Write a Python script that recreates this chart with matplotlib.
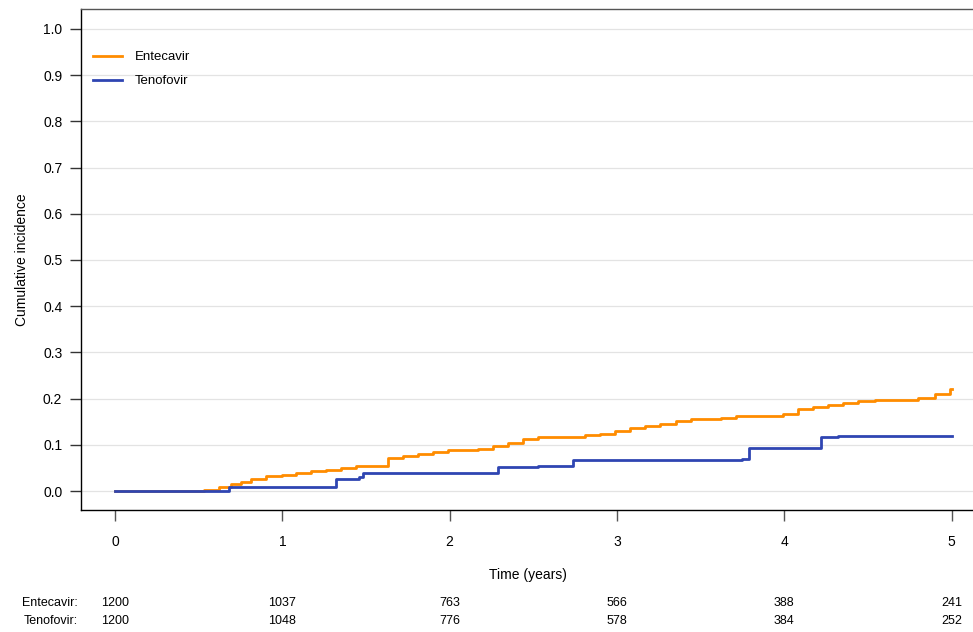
import matplotlib
matplotlib.use("Agg")
import matplotlib.pyplot as plt

plt.rcParams['font.family'] = ['Liberation Sans', 'DejaVu Sans']

# Data
ent_t = [0.0, 0.53, 0.62, 0.69, 0.75, 0.81, 0.90, 1.00, 1.08, 1.17, 1.26, 1.35, 1.44,
         1.63, 1.72, 1.81, 1.90, 1.99, 2.17, 2.26, 2.35, 2.44, 2.53, 2.81, 2.90, 2.99,
         3.08, 3.17, 3.26, 3.35, 3.44, 3.62, 3.71, 3.90, 3.99, 4.08, 4.17, 4.26, 4.35,
         4.44, 4.54, 4.80, 4.90, 4.99, 5.0]
ent_y = [0.0, 0.002, 0.008, 0.0145, 0.020, 0.025, 0.033, 0.035, 0.040, 0.0425, 0.045,
         0.049, 0.054, 0.071, 0.076, 0.080, 0.084, 0.089, 0.092, 0.097, 0.105, 0.1125,
         0.116, 0.121, 0.124, 0.1305, 0.136, 0.141, 0.146, 0.1515, 0.156, 0.159, 0.162,
         0.163, 0.166, 0.178, 0.1825, 0.1855, 0.190, 0.194, 0.198, 0.201, 0.211, 0.220, 0.220]
ten_t = [0.0, 0.68, 1.32, 1.46, 1.48, 2.29, 2.53, 2.74, 3.75, 3.79, 4.22, 4.32, 5.0]
ten_y = [0.0, 0.009, 0.026, 0.031, 0.039, 0.052, 0.0535, 0.068, 0.070, 0.093, 0.1175, 0.120, 0.120]

groups = ["Entecavir", "Tenofovir"]
risk_times = [0, 1, 2, 3, 4, 5]
ent_risk = [1200, 1037, 763, 566, 388, 241]
ten_risk = [1200, 1048, 776, 578, 384, 252]

orange = "#FF8C00"
blue = "#2F45B2"

fig = plt.figure(figsize=(9.73, 6.32), dpi=100)
ax = fig.add_axes([81/973, 1-510/632, 1-81/973+0.002, (510-9)/632])

ax.step(ent_t, ent_y, where='post', color=orange, lw=2.0, label=groups[0], zorder=3)
ax.step(ten_t, ten_y, where='post', color=blue, lw=2.0, label=groups[1], zorder=3)

ax.set_xlim(-0.204, 5.14)
ax.set_ylim(-0.041, 1.043)
ax.set_yticks([i/10 for i in range(11)])
ax.set_yticklabels([f"{i/10:.1f}" for i in range(11)], fontsize=10)
ax.set_xticks(risk_times)
ax.set_xticklabels([str(t) for t in risk_times], fontsize=10)
ax.yaxis.grid(True, color="#e3e3e3", lw=0.9, zorder=0)
ax.set_axisbelow(True)

for s in ["left", "bottom"]:
    ax.spines[s].set_color("black")
    ax.spines[s].set_linewidth(1.0)
ax.spines["top"].set_color("#555555")
ax.spines["top"].set_linewidth(1.0)
ax.spines["right"].set_visible(False)

ax.tick_params(axis='y', direction='out', length=8, width=1, color="#333333", pad=5.5)
ax.tick_params(axis='x', direction='out', length=8, width=1, color="#555555", pad=10)

ax.set_ylabel("Cumulative incidence", fontsize=10, labelpad=10)
ax.set_xlabel("Time (years)", fontsize=10, labelpad=14)

leg = ax.legend(loc='upper left', bbox_to_anchor=(0.0, 0.94), frameon=False,
                fontsize=9.5, handlelength=2.2, handletextpad=1.0, labelspacing=0.9)

# Numbers at risk table
rows = [(groups[0] + ":", ent_risk, 603), (groups[1] + ":", ten_risk, 621.5)]
for label, vals, ypx in rows:
    yfig = 1 - ypx / 632
    fig.text(78/973, yfig, label, ha='right', va='center', fontsize=9)
    for t, v in zip(risk_times, vals):
        xdisp = ax.transData.transform((t, 0))[0]
        fig.text(xdisp / fig.bbox.width, yfig, str(v), ha='center', va='center',
                 fontsize=9)

fig.savefig("out.png", dpi=100)
